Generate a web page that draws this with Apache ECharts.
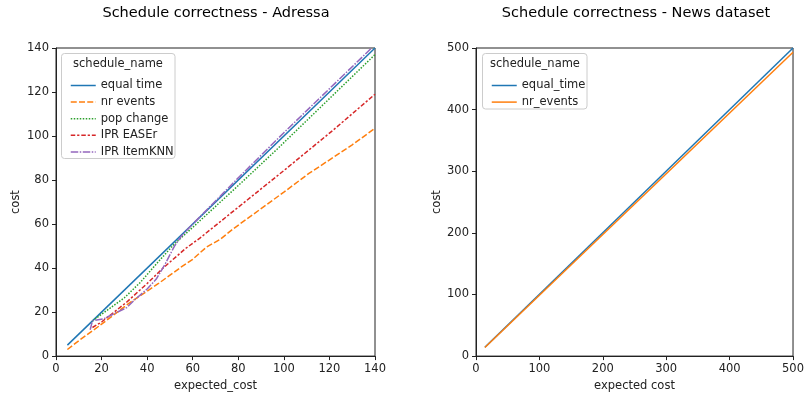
<!DOCTYPE html>
<html>
<head>
<meta charset="utf-8">
<script src="https://cdn.jsdelivr.net/npm/echarts@6/dist/echarts.min.js"></script>
<style>
html,body{margin:0;padding:0;background:#fff;}
#chart{width:807px;height:397px;}
</style>
</head>
<body>
<div id="chart"></div>
<script>
// ---- Left panel (Adressa) ----
var leftTicksX = [0, 20, 40, 60, 80, 100, 120, 140];
var leftTicksY = [0, 20, 40, 60, 80, 100, 120, 140];
var equalTimeX = [5, 140];
var equalTimeY = [5, 140];
var nrEventsX = [5, 10, 16, 20, 32, 45, 55, 60, 66, 72, 78, 90, 100, 111, 122, 130, 140];
var nrEventsY = [3, 7, 11.5, 14.5, 24, 33, 40.5, 44, 49.5, 53, 58, 67, 74.5, 83, 90.5, 96, 103.5];
var popChangeX = [16, 22, 30, 37, 45, 52, 60, 80, 97, 120, 140];
var popChangeY = [16, 20.5, 26.5, 33.5, 43, 51, 58.5, 77.5, 94, 117, 137];
var easerX = [16, 20, 31, 40, 47, 57, 63, 78, 100, 122, 140];
var easerY = [13, 15.5, 24.5, 33, 40, 49, 53.5, 66, 84.3, 103, 119];
var itemknnX = [15, 16, 21, 25, 31, 35, 40, 44, 48, 52, 55, 60, 70, 80, 100, 120, 138.5];
var itemknnY = [12, 16, 17, 19, 22, 26, 30.5, 35, 42, 50, 54.5, 60, 70.5, 81, 101.5, 121.5, 140];
var leftNames = ['equal time', 'nr events', 'pop change', 'IPR EASEr', 'IPR ItemKNN'];

// ---- Right panel (News dataset) ----
var rightTicksX = [0, 100, 200, 300, 400, 500];
var rightTicksY = [0, 100, 200, 300, 400, 500];
var newsEqualX = [14, 500];
var newsEqualY = [14.5, 500];
var newsNrX = [14, 500];
var newsNrY = [14, 493];
var rightNames = ['equal_time', 'nr_events'];

function pairs(xs, ys) { return xs.map(function (x, i) { return [x, ys[i]]; }); }

var colors = ['#1f77b4', '#ff7f0e', '#2ca02c', '#d62728', '#9467bd'];
var FONT = 'DejaVu Sans';
var TXT = '#222';
var FS = 11.5;

function xAxisCfg(idx, ticks, name) {
  return {
    type: 'value', gridIndex: idx, min: ticks[0], max: ticks[ticks.length - 1],
    interval: ticks[1] - ticks[0],
    name: name, nameLocation: 'middle', nameGap: 21,
    nameTextStyle: { fontFamily: FONT, fontSize: FS, color: TXT },
    axisLine: { show: true, onZero: false, lineStyle: { color: '#222', width: 1 } },
    axisTick: { show: true, length: 4, lineStyle: { color: '#222' } },
    axisLabel: { fontFamily: FONT, fontSize: FS, color: TXT, margin: 7 },
    splitLine: { show: false }
  };
}
function yAxisCfg(idx, ticks, gap) {
  return {
    type: 'value', gridIndex: idx, min: ticks[0], max: ticks[ticks.length - 1],
    interval: ticks[1] - ticks[0],
    name: 'cost', nameLocation: 'middle', nameGap: gap, nameRotate: 90,
    nameTextStyle: { fontFamily: FONT, fontSize: FS, color: TXT },
    axisLine: { show: true, onZero: false, lineStyle: { color: '#222', width: 1 } },
    axisTick: { show: true, length: 4, lineStyle: { color: '#222' } },
    axisLabel: { fontFamily: FONT, fontSize: FS, color: TXT, margin: 7 },
    splitLine: { show: false }
  };
}
function lineSeries(name, xi, data, color, type) {
  return {
    name: name, type: 'line', xAxisIndex: xi, yAxisIndex: xi,
    data: data, symbol: 'none', showSymbol: false, animation: false,
    color: color,
    lineStyle: { color: color, width: 1.5, type: type, cap: 'butt' },
    emphasis: { disabled: true }, clip: true
  };
}

var chart = echarts.init(document.getElementById('chart'), null, { renderer: 'canvas' });
var legendCommon = {
  orient: 'vertical', itemWidth: 25, itemHeight: 13, itemGap: 3.6,
  textStyle: { fontFamily: FONT, fontSize: FS, color: TXT, lineHeight: 13 },
  itemStyle: { opacity: 0 },
  lineStyle: { width: 1.5 },
  selectedMode: false, z: 5
};
chart.setOption({
  animation: false,
  backgroundColor: '#fff',
  title: [
    { text: 'Schedule correctness - Adressa', left: 216, top: 6, padding: 0, textAlign: 'center',
      textStyle: { fontFamily: FONT, fontSize: 14.5, fontWeight: 'normal', color: '#000' } },
    { text: 'Schedule correctness - News dataset', left: 636, top: 6, padding: 0, textAlign: 'center',
      textStyle: { fontFamily: FONT, fontSize: 14.5, fontWeight: 'normal', color: '#000' } }
  ],
  grid: [
    { left: 56, right: 432, top: 48, bottom: 38, show: true, borderColor: '#222', borderWidth: 1, backgroundColor: 'transparent' },
    { left: 476, right: 11, top: 48, bottom: 38, show: true, borderColor: '#222', borderWidth: 1, backgroundColor: 'transparent' }
  ],
  xAxis: [xAxisCfg(0, leftTicksX, 'expected_cost'), xAxisCfg(1, rightTicksX, 'expected cost')],
  yAxis: [yAxisCfg(0, leftTicksY, 34), yAxisCfg(1, rightTicksY, 33)],
  legend: [
    Object.assign({}, legendCommon, { data: leftNames, left: 65, top: 74 }),
    Object.assign({}, legendCommon, { data: rightNames, left: 486, top: 74 })
  ],
  graphic: [
    { type: 'rect', z: 3, shape: { x: 61.5, y: 53.5, width: 113.5, height: 105, r: 3 },
      style: { fill: 'rgba(255,255,255,0.8)', stroke: '#ccc', lineWidth: 1 } },
    { type: 'text', z: 5, x: 118, y: 64, style: { text: 'schedule_name', fontFamily: FONT, fontSize: FS, fill: TXT, align: 'center', verticalAlign: 'middle' } },
    { type: 'rect', z: 3, shape: { x: 482.5, y: 53.5, width: 104.5, height: 55.5, r: 3 },
      style: { fill: 'rgba(255,255,255,0.8)', stroke: '#ccc', lineWidth: 1 } },
    { type: 'text', z: 5, x: 535, y: 64, style: { text: 'schedule_name', fontFamily: FONT, fontSize: FS, fill: TXT, align: 'center', verticalAlign: 'middle' } }
  ],
  series: [
    lineSeries(leftNames[0], 0, pairs(equalTimeX, equalTimeY), colors[0], 'solid'),
    lineSeries(leftNames[1], 0, pairs(nrEventsX, nrEventsY), colors[1], [6, 2.25]),
    lineSeries(leftNames[2], 0, pairs(popChangeX, popChangeY), colors[2], [1.5, 1.5]),
    lineSeries(leftNames[3], 0, pairs(easerX, easerY), colors[3], [4.5, 1.9, 2.25, 1.9]),
    lineSeries(leftNames[4], 0, pairs(itemknnX, itemknnY), colors[4], [7.5, 1.5, 1.5, 1.5]),
    lineSeries(rightNames[0], 1, pairs(newsEqualX, newsEqualY), colors[0], 'solid'),
    lineSeries(rightNames[1], 1, pairs(newsNrX, newsNrY), colors[1], 'solid')
  ]
});
</script>
</body>
</html>
